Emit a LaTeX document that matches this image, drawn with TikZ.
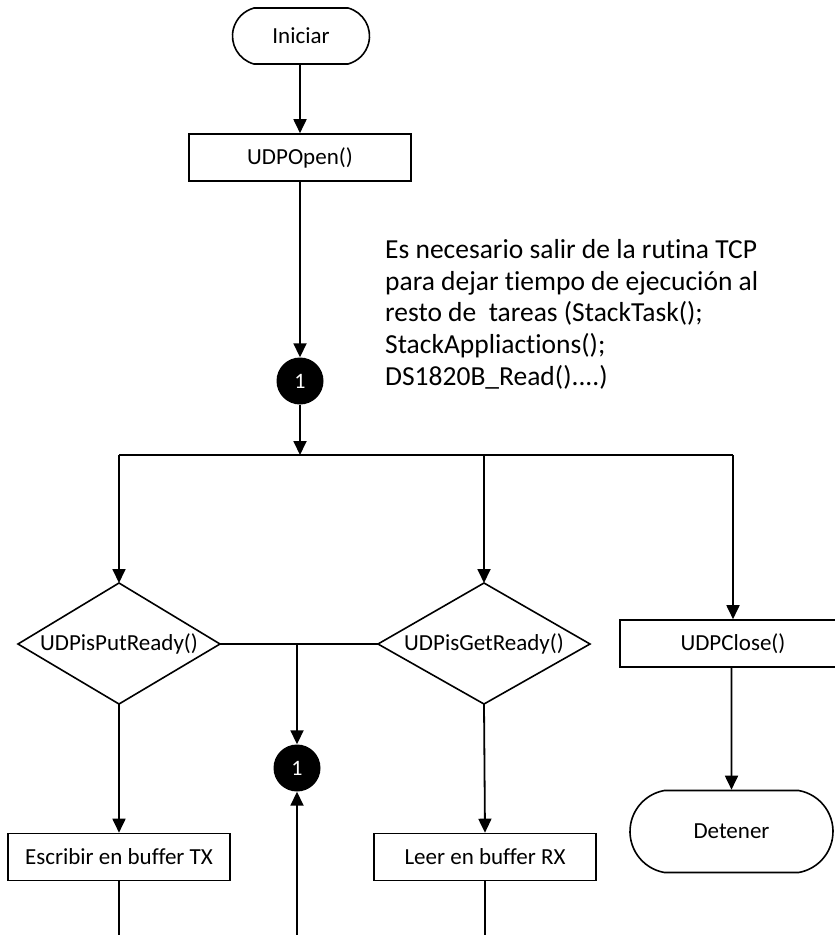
\documentclass[tikz,border=0pt]{standalone}
\usepackage{fontspec}
\setmainfont{Carlito}[Ligatures=NoCommon]
\usetikzlibrary{arrows.meta,shapes.misc}
\begin{document}
\begin{tikzpicture}[x=1pt,y=-1pt,
  every node/.style={font=\fontsize{23}{27}\selectfont},
  conn/.style={line width=1.8pt},
  arr/.style={conn,-{Triangle[length=14pt,width=13pt]}},
  outline/.style={draw,line width=1.6pt},
  proc/.style={outline,minimum width=222pt,minimum height=47pt,inner sep=0pt},
  term/.style={outline,rounded rectangle,inner sep=0pt},
  connector/.style={circle,fill=black,text=white,minimum size=47pt,inner sep=0pt,font=\fontsize{22}{24}\selectfont}]
\useasboundingbox (0,0) rectangle (835,935);
\clip (0,0) rectangle (835,935);

% start and first call
\node[term,minimum width=137pt,minimum height=56pt,rounded rectangle arc length=150] (start) at (301,36) {Iniciar};
\node[proc] (open) at (300,157.5) {UDPOpen()};

% loop connector and note
\node[connector] (c1) at (300,381) {1};
\node[anchor=north west,align=left,inner sep=0pt,font=\fontsize{27.5}{31.7}\selectfont] (note) at (385,239)
  {Es necesario salir de la rutina TCP\\para dejar tiempo de ejecución al\\resto de \ tareas (StackTask();\\StackAppliactions();\\DS1820B\_Read()....)};

% distribution bus
\coordinate (busL) at (119,455);
\coordinate (busC) at (300,455);
\coordinate (busM) at (484,455);
\coordinate (busR) at (733,455);

% decisions
\node[inner sep=0pt] (put) at (119,644) {UDPisPutReady()};
\coordinate (putN) at (119,583);
\coordinate (putE) at (220,644);
\coordinate (putS) at (119,704);
\coordinate (putW) at (18,644);
\draw[outline] (putN) -- (putE) -- (putS) -- (putW) -- cycle;

\node[inner sep=0pt] (get) at (484,644) {UDPisGetReady()};
\coordinate (getN) at (484,583);
\coordinate (getE) at (590,644);
\coordinate (getS) at (484,704);
\coordinate (getW) at (378,644);
\draw[outline] (getN) -- (getE) -- (getS) -- (getW) -- cycle;

% remaining steps
\node[proc,minimum width=226pt] (close) at (733,643.5) {UDPClose()};
\node[connector] (c2) at (297,768) {1};
\node[proc] (tx) at (119,857) {Escribir en buffer TX};
\node[proc] (rx) at (485,857) {Leer en buffer RX};
\node[term,minimum width=203pt,minimum height=82pt,rounded rectangle arc length=160] (stop) at (731.5,831.5) {Detener};

\coordinate (join) at (297,644);
\coordinate (txEnd) at (119,935);
\coordinate (backStart) at (297,935);
\coordinate (rxEnd) at (485,935);

% connectors
\draw[arr] (start.south -| open) -- (open);
\draw[arr] (open) -- (c1);
\draw[arr] (c1) -- (busC);
\draw[conn] (busL) -- (busR);
\draw[arr] (busL) -- (putN);
\draw[arr] (busM) -- (getN);
\draw[arr] (busR) -- (close);
\draw[conn] (putE) -- (getW);
\draw[arr] (join) -- (c2);
\draw[arr] (backStart) -- (c2);
\draw[arr] (putS) -- (tx);
\draw[arr] (getS) -- (rx.north);
\draw[conn] (tx) -- (txEnd);
\draw[conn] (rx) -- (rxEnd);
\draw[arr] (close.south -| stop) -- (stop);
\end{tikzpicture}
\end{document}
